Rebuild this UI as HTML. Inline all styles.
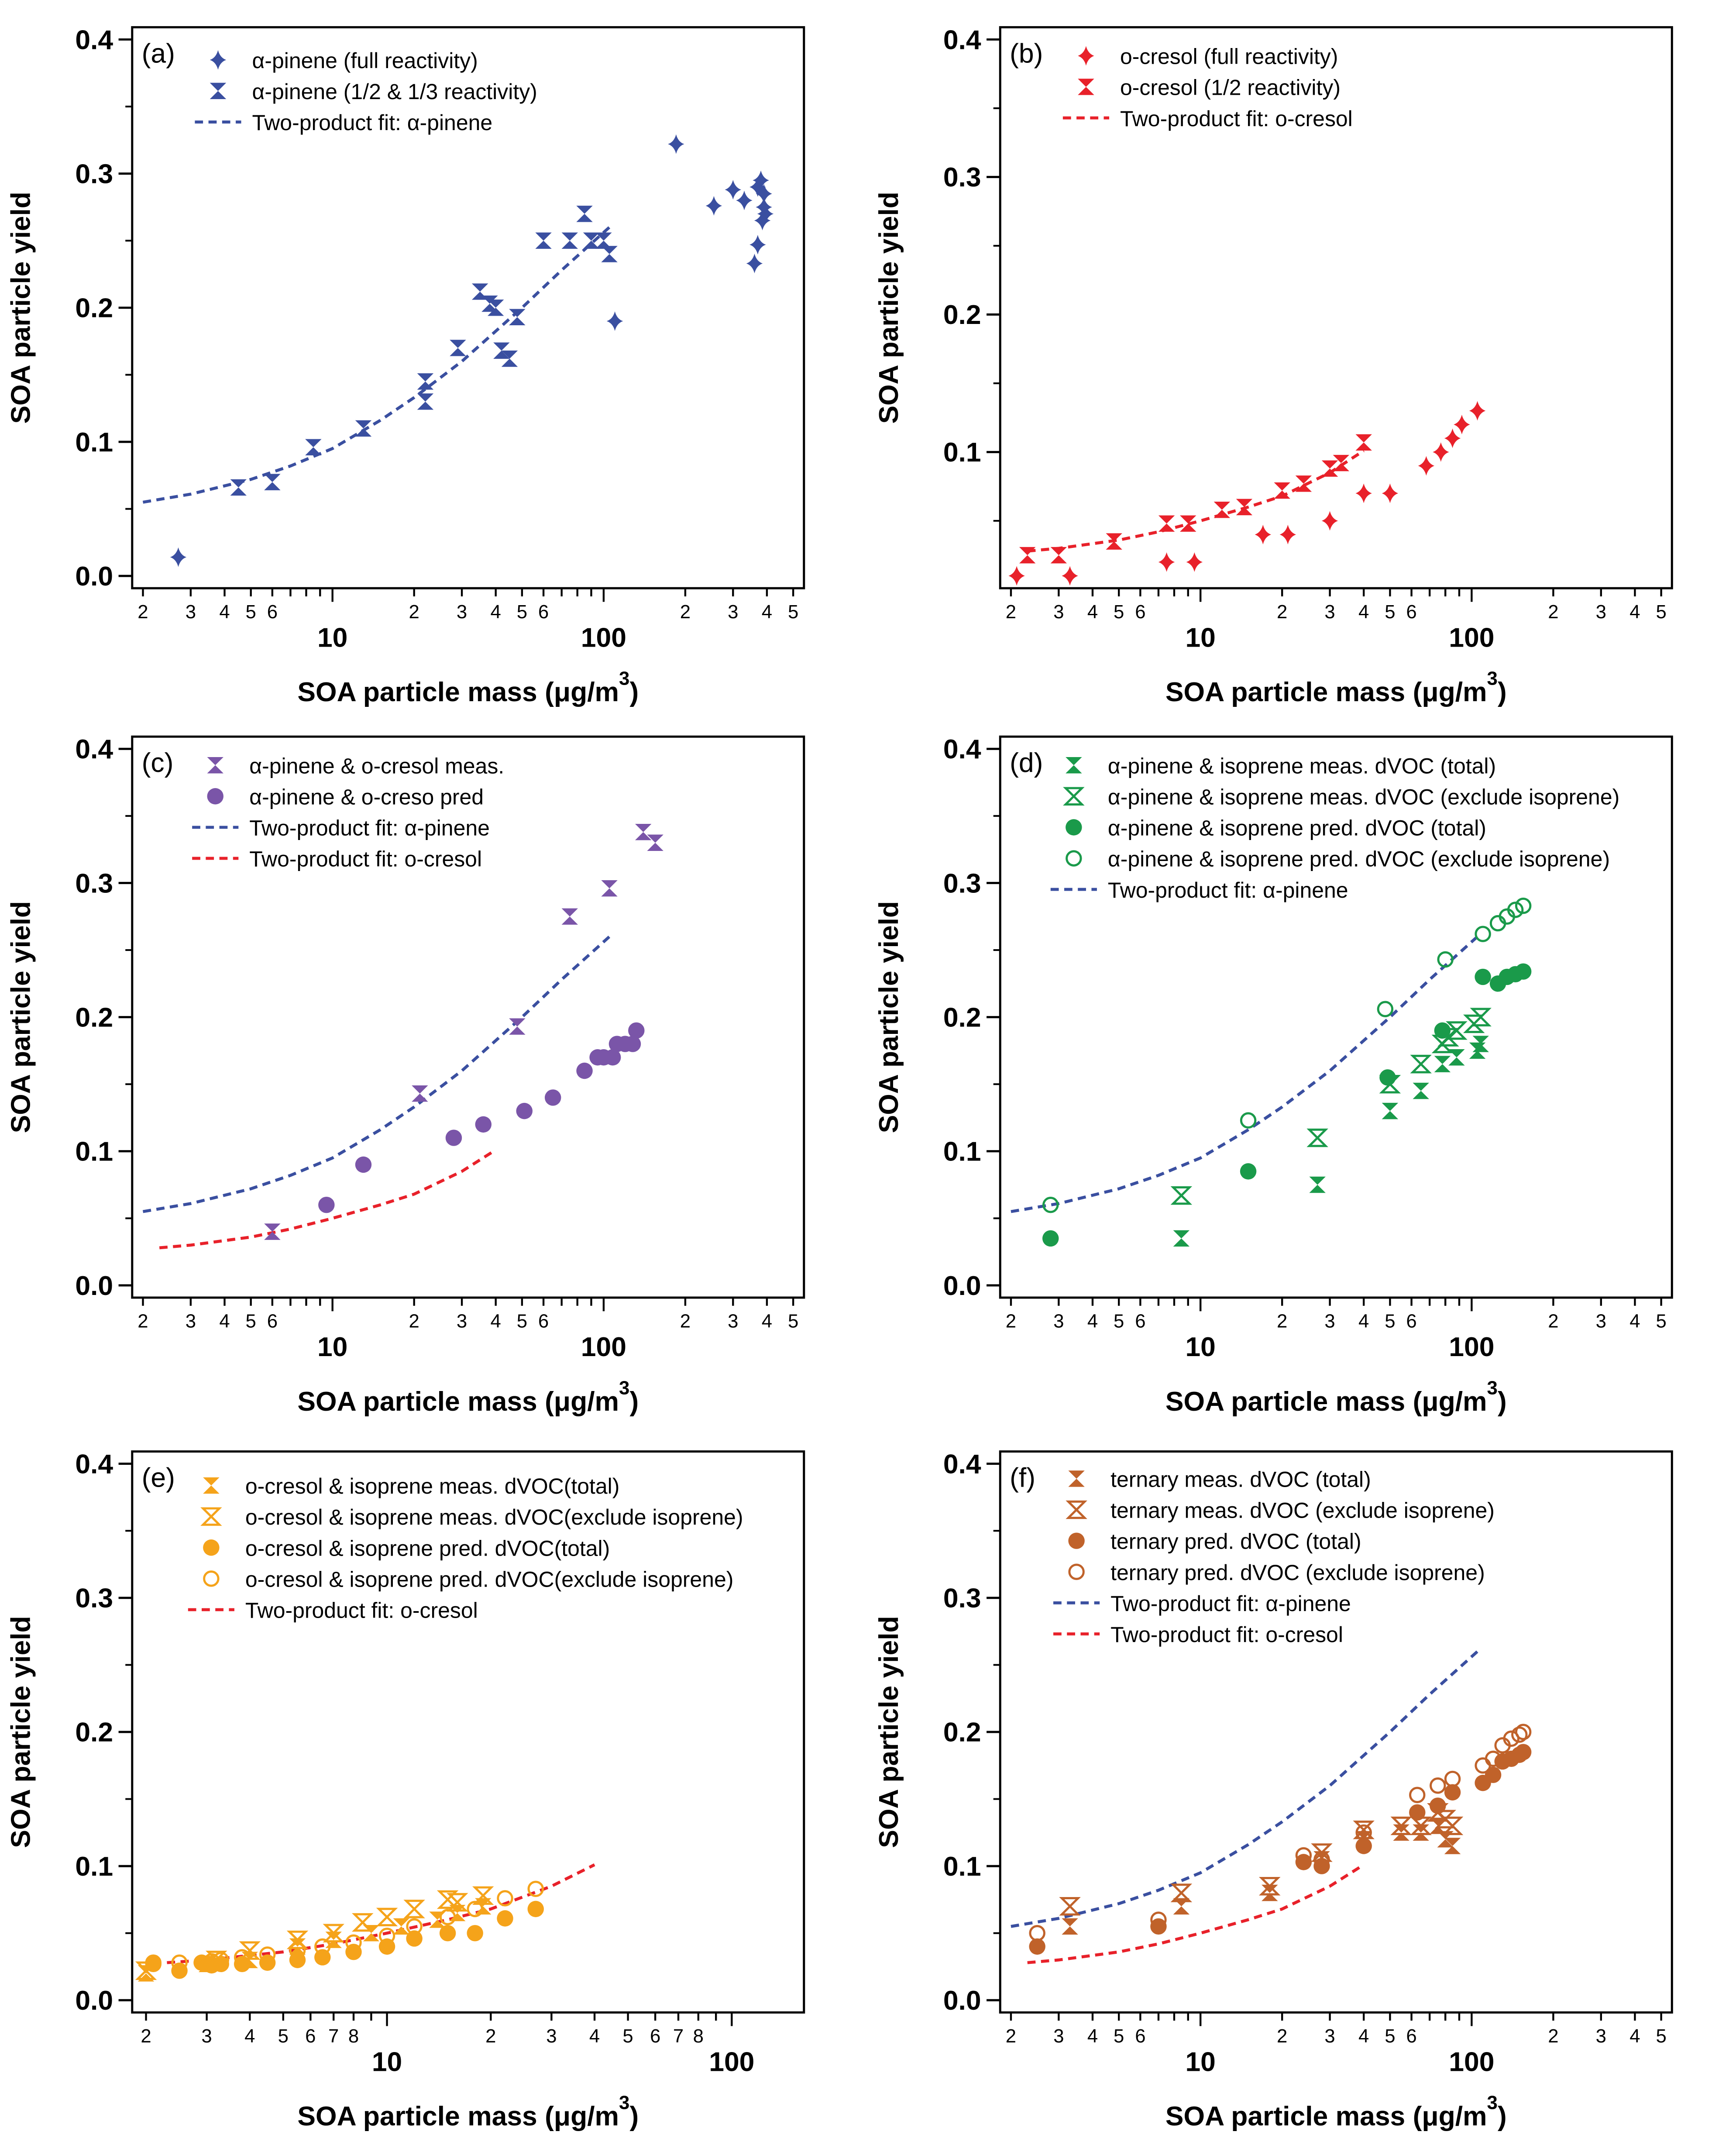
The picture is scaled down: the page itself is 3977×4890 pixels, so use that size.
<!DOCTYPE html>
<html><head><meta charset="utf-8"><title>SOA yield panels</title>
<style>html,body{margin:0;padding:0;background:#fff}svg{display:block}text{font-family:"Liberation Sans",sans-serif}</style>
</head><body>
<svg id="fig" xmlns="http://www.w3.org/2000/svg" width="3977" height="4890" viewBox="0 0 1274 1568" preserveAspectRatio="none"></svg>
<script>
// ---------- data ----------
const fitApX = [2, 3, 5, 7, 10, 15, 20, 30, 50, 70, 105];
const fitApY = [0.055, 0.061, 0.072, 0.082, 0.095, 0.116, 0.133, 0.160, 0.200, 0.228, 0.260];
const fitOcX = [2.3, 3, 5, 7, 10, 15, 20, 30, 40];
const fitOcY = [0.028, 0.030, 0.036, 0.042, 0.050, 0.060, 0.068, 0.085, 0.101];

const aFullX = [2.7, 110, 185, 255, 300, 330, 360, 370, 370, 380, 385, 390, 390, 395];
const aFullY = [0.014, 0.19, 0.322, 0.276, 0.288, 0.28, 0.233, 0.247, 0.29, 0.295, 0.265, 0.275, 0.285, 0.27];
const aPartX = [4.5, 6, 8.5, 13, 22, 22, 29, 35, 38, 40, 42, 45, 48, 60, 75, 85, 90, 100, 105];
const aPartY = [0.066, 0.07, 0.096, 0.11, 0.145, 0.13, 0.17, 0.212, 0.203, 0.2, 0.168, 0.162, 0.193, 0.25, 0.25, 0.27, 0.25, 0.25, 0.24];

const bFullX = [2.1, 3.3, 7.5, 9.5, 17, 21, 30, 40, 50, 68, 77, 85, 92, 105];
const bFullY = [0.01, 0.01, 0.02, 0.02, 0.04, 0.04, 0.05, 0.07, 0.07, 0.09, 0.1, 0.11, 0.12, 0.13];
const bHalfX = [2.3, 3, 4.8, 7.5, 9, 12, 14.5, 20, 24, 30, 33, 40];
const bHalfY = [0.025, 0.025, 0.035, 0.048, 0.048, 0.058, 0.06, 0.072, 0.077, 0.088, 0.092, 0.107];

const cMeasX = [6, 21, 48, 75, 105, 140, 155];
const cMeasY = [0.04, 0.143, 0.193, 0.275, 0.296, 0.338, 0.33];
const cPredX = [9.5, 13, 28, 36, 51, 65, 85, 95, 100, 108, 112, 120, 128, 132];
const cPredY = [0.06, 0.09, 0.11, 0.12, 0.13, 0.14, 0.16, 0.17, 0.17, 0.17, 0.18, 0.18, 0.18, 0.19];

const dMeasTX = [8.5, 27, 50, 65, 78, 88, 105, 108];
const dMeasTY = [0.035, 0.075, 0.13, 0.145, 0.165, 0.17, 0.175, 0.18];
const dMeasEX = [8.5, 27, 50, 65, 78, 82, 88, 102, 108];
const dMeasEY = [0.067, 0.11, 0.15, 0.165, 0.18, 0.185, 0.19, 0.195, 0.2];
const dPredTX = [2.8, 15, 49, 78, 110, 125, 135, 145, 155];
const dPredTY = [0.035, 0.085, 0.155, 0.19, 0.23, 0.225, 0.23, 0.232, 0.234];
const dPredEX = [2.8, 15, 48, 80, 110, 125, 135, 145, 155];
const dPredEY = [0.06, 0.123, 0.206, 0.243, 0.262, 0.27, 0.275, 0.28, 0.283];

const eMeasTX = [2, 3, 4, 5.5, 7, 9, 11, 14, 16, 19];
const eMeasTY = [0.02, 0.027, 0.03, 0.04, 0.045, 0.05, 0.055, 0.06, 0.065, 0.07];
const eMeasEX = [2, 3.2, 4, 5.5, 7, 8.5, 10, 12, 15, 16, 19];
const eMeasEY = [0.022, 0.03, 0.037, 0.045, 0.05, 0.058, 0.062, 0.068, 0.075, 0.073, 0.078];
const ePredTX = [2.1, 2.5, 2.9, 3.1, 3.3, 3.8, 4.5, 5.5, 6.5, 8, 10, 12, 15, 18, 22, 27];
const ePredTY = [0.027, 0.022, 0.028, 0.026, 0.027, 0.027, 0.028, 0.03, 0.032, 0.036, 0.04, 0.046, 0.05, 0.05, 0.061, 0.068];
const ePredEX = [2.1, 2.5, 3.1, 3.3, 3.8, 4.5, 5.5, 6.5, 8, 10, 12, 15, 18, 22, 27];
const ePredEY = [0.028, 0.028, 0.029, 0.03, 0.032, 0.034, 0.037, 0.04, 0.043, 0.048, 0.055, 0.062, 0.068, 0.076, 0.083];

const fMeasTX = [3.3, 8.5, 18, 28, 40, 55, 65, 75, 80, 85];
const fMeasTY = [0.055, 0.07, 0.08, 0.105, 0.12, 0.125, 0.125, 0.13, 0.12, 0.115];
const fMeasEX = [3.3, 8.5, 18, 28, 40, 55, 65, 75, 80, 85];
const fMeasEY = [0.07, 0.08, 0.085, 0.11, 0.127, 0.13, 0.13, 0.14, 0.135, 0.13];
const fPredTX = [2.5, 7, 24, 28, 40, 63, 75, 85, 110, 120, 130, 140, 150, 155];
const fPredTY = [0.04, 0.055, 0.103, 0.1, 0.115, 0.14, 0.145, 0.155, 0.162, 0.168, 0.178, 0.18, 0.183, 0.185];
const fPredEX = [2.5, 7, 24, 28, 40, 63, 75, 85, 110, 120, 130, 140, 150, 155];
const fPredEY = [0.05, 0.06, 0.108, 0.105, 0.125, 0.153, 0.16, 0.165, 0.175, 0.18, 0.19, 0.195, 0.198, 0.2];

const yTicks = ["0.0", "0.1", "0.2", "0.3", "0.4"];

// ---------- drawing ----------
const NS = "http://www.w3.org/2000/svg";
const svg = document.getElementById("fig");
const BLUE = "#3a4fa0", RED = "#e8212a", PURPLE = "#7a55a8", GREEN = "#1a9a4a", ORANGE = "#f5a31a", BROWN = "#c0622a";

function mk(tag, attrs, parent) {
  const e = document.createElementNS(NS, tag);
  for (const k in attrs) e.setAttribute(k, attrs[k]);
  (parent || svg).appendChild(e);
  return e;
}

function marker(g, kind, color, x, y, s) {
  s = s || 6;
  let e;
  if (kind === "star") {
    e = mk("path", {d: `M${x},${y - s * 1.2} Q${x + s * 0.25},${y - s * 0.25} ${x + s},${y} Q${x + s * 0.25},${y + s * 0.25} ${x},${y + s * 1.2} Q${x - s * 0.25},${y + s * 0.25} ${x - s},${y} Q${x - s * 0.25},${y - s * 0.25} ${x},${y - s * 1.2}Z`, fill: color}, g);
  } else if (kind === "hg" || kind === "hgo") {
    const d = `M${x - s},${y - s} L${x + s},${y - s} L${x},${y} Z M${x - s},${y + s} L${x + s},${y + s} L${x},${y} Z`;
    e = kind === "hg" ? mk("path", {d, fill: color}, g) : mk("path", {d, fill: "none", stroke: color, "stroke-width": 1.6}, g);
  } else if (kind === "dot") {
    e = mk("circle", {cx: x, cy: y, r: s, fill: color}, g);
  } else {
    e = mk("circle", {cx: x, cy: y, r: s - 0.8, fill: "none", stroke: color, "stroke-width": 1.6}, g);
  }
  
  
  return e;
}

function panel(cfg) {
  const g = mk("g", {});
  
  
  const ysc = cfg.ysc || 985;
  const L = cfg.left, R = cfg.left + 493;
  const T = cfg.top !== undefined ? cfg.top : cfg.y0 - 403;
  const B = cfg.bottom !== undefined ? cfg.bottom : cfg.y0 + 9;
  const xs = v => cfg.x10 + (Math.log10(v) - 1) * cfg.dec;
  const ys = v => cfg.y0 - v * ysc;
  const frame = mk("rect", {x: L, y: T, width: R - L, height: B - T, fill: "none", stroke: "#000", "stroke-width": 1.6}, g);
  
  
  yTicks.forEach((t, i) => {
    const yy = ys(i * 0.1);
    if (yy > B) return;
    mk("line", {x1: L - 10, x2: L, y1: yy, y2: yy, stroke: "#000", "stroke-width": 1.6}, g);
    const tx = mk("text", {x: L - 14, y: yy + 7, "text-anchor": "end", "font-size": 20, "font-weight": "bold"}, g);
    tx.textContent = t;
    
    
  });
  for (let i = 0; i < 4; i++) { const yy = ys(i * 0.1 + 0.05); mk("line", {x1: L - 5, x2: L, y1: yy, y2: yy, stroke: "#000", "stroke-width": 1.3}, g); }
  for (let dec = 1; dec <= 100; dec *= 10) {
    for (let m = 1; m <= 9; m++) {
      const v = dec * m, xx = xs(v);
      if (xx < L - 1 || xx > R + 1) continue;
      const major = m === 1;
      mk("line", {x1: xx, x2: xx, y1: B, y2: B + (major ? 10 : 6), stroke: "#000", "stroke-width": 1.4}, g);
      let lab = null;
      if (major) lab = String(v);
      else if (m <= cfg.maxMinor) lab = String(m);
      if (lab) {
        const tx = mk("text", {x: xx, y: major ? B + 43 : B + 22, "text-anchor": "middle", "font-size": major ? 20 : 14, "font-weight": major ? "bold" : "normal"}, g);
        tx.textContent = lab;
        
        
      }
    }
  }
  const xt = mk("text", {x: (L + R) / 2, y: B + 83, "text-anchor": "middle", "font-size": 20, "font-weight": "bold"}, g);
  xt.innerHTML = 'SOA particle mass (μg/m<tspan dy="-12" font-size="14">3</tspan><tspan dy="12">)</tspan>';
  
  
  const yt = mk("text", {x: 0, y: 0, transform: `translate(${L - 75},${(T + B) / 2}) rotate(-90)`, "text-anchor": "middle", "font-size": 20, "font-weight": "bold"}, g);
  yt.textContent = "SOA particle yield";
  
  
  const pl = mk("text", {x: L + 7, y: T + 26, "font-size": 20}, g);
  pl.textContent = "(" + cfg.id + ")";
  
  
  cfg.fits.forEach(f => {
    const p = mk("polyline", {points: f.x.map((v, i) => xs(v) + "," + ys(f.y[i])).join(" "), fill: "none", stroke: f.c, "stroke-width": 2.2, "stroke-dasharray": "6,4"}, g);
    
    
  });
  cfg.series.forEach(s => { s.x.forEach((v, i) => marker(g, s.k, s.c, xs(v), ys(s.y[i]))); });
  cfg.legend.forEach((it, i) => {
    const yy = cfg.legY + i * 22.8;
    if (it.k === "line") {
      const ln = mk("line", {x1: cfg.legX - 17, x2: cfg.legX + 17, y1: yy, y2: yy, stroke: it.c, "stroke-width": 2.2, "stroke-dasharray": "6,4"}, g);
      
      
    } else marker(g, it.k, it.c, cfg.legX, yy);
    const tx = mk("text", {x: cfg.legX + 25, y: yy + 6, "font-size": 16}, g);
    tx.textContent = it.t;
    
    
  });
}

const apFit = {x: fitApX, y: fitApY, c: BLUE};
const ocFit = {x: fitOcX, y: fitOcY, c: RED};

panel({id: "a", left: 97, y0: 423, x10: 244, dec: 199, maxMinor: 6, legX: 160, legY: 44,
  fits: [apFit],
  series: [{x: aFullX, y: aFullY, k: "star", c: BLUE}, {x: aPartX, y: aPartY, k: "hg", c: BLUE}],
  legend: [{k: "star", c: BLUE, t: "α-pinene (full reactivity)"}, {k: "hg", c: BLUE, t: "α-pinene (1/2 & 1/3 reactivity)"}, {k: "line", c: BLUE, t: "Two-product fit: α-pinene"}]});
panel({id: "b", left: 734, y0: 433, ysc: 1010, top: 20, bottom: 432, x10: 881, dec: 199, maxMinor: 6, legX: 797, legY: 41,
  fits: [ocFit],
  series: [{x: bFullX, y: bFullY, k: "star", c: RED}, {x: bHalfX, y: bHalfY, k: "hg", c: RED}],
  legend: [{k: "star", c: RED, t: "o-cresol (full reactivity)"}, {k: "hg", c: RED, t: "o-cresol (1/2 reactivity)"}, {k: "line", c: RED, t: "Two-product fit: o-cresol"}]});
panel({id: "c", left: 97, y0: 944, x10: 244, dec: 199, maxMinor: 6, legX: 158, legY: 562,
  fits: [apFit, ocFit],
  series: [{x: cMeasX, y: cMeasY, k: "hg", c: PURPLE}, {x: cPredX, y: cPredY, k: "dot", c: PURPLE}],
  legend: [{k: "hg", c: PURPLE, t: "α-pinene & o-cresol meas."}, {k: "dot", c: PURPLE, t: "α-pinene & o-creso pred"}, {k: "line", c: BLUE, t: "Two-product fit: α-pinene"}, {k: "line", c: RED, t: "Two-product fit: o-cresol"}]});
panel({id: "d", left: 734, y0: 944, x10: 881, dec: 199, maxMinor: 6, legX: 788, legY: 562,
  fits: [apFit],
  series: [{x: dMeasTX, y: dMeasTY, k: "hg", c: GREEN}, {x: dMeasEX, y: dMeasEY, k: "hgo", c: GREEN}, {x: dPredTX, y: dPredTY, k: "dot", c: GREEN}, {x: dPredEX, y: dPredEY, k: "ring", c: GREEN}],
  legend: [{k: "hg", c: GREEN, t: "α-pinene & isoprene meas. dVOC (total)"}, {k: "hgo", c: GREEN, t: "α-pinene & isoprene meas. dVOC (exclude isoprene)"}, {k: "dot", c: GREEN, t: "α-pinene & isoprene pred. dVOC (total)"}, {k: "ring", c: GREEN, t: "α-pinene & isoprene pred. dVOC (exclude isoprene)"}, {k: "line", c: BLUE, t: "Two-product fit: α-pinene"}]});
panel({id: "e", left: 97, y0: 1469, x10: 284, dec: 253, maxMinor: 8, legX: 155, legY: 1091,
  fits: [ocFit],
  series: [{x: eMeasTX, y: eMeasTY, k: "hg", c: ORANGE}, {x: eMeasEX, y: eMeasEY, k: "hgo", c: ORANGE}, {x: ePredTX, y: ePredTY, k: "dot", c: ORANGE}, {x: ePredEX, y: ePredEY, k: "ring", c: ORANGE}],
  legend: [{k: "hg", c: ORANGE, t: "o-cresol & isoprene meas. dVOC(total)"}, {k: "hgo", c: ORANGE, t: "o-cresol & isoprene meas. dVOC(exclude isoprene)"}, {k: "dot", c: ORANGE, t: "o-cresol & isoprene pred. dVOC(total)"}, {k: "ring", c: ORANGE, t: "o-cresol & isoprene pred. dVOC(exclude isoprene)"}, {k: "line", c: RED, t: "Two-product fit: o-cresol"}]});
panel({id: "f", left: 734, y0: 1469, x10: 881, dec: 199, maxMinor: 6, legX: 790, legY: 1086,
  fits: [apFit, ocFit],
  series: [{x: fMeasTX, y: fMeasTY, k: "hg", c: BROWN}, {x: fMeasEX, y: fMeasEY, k: "hgo", c: BROWN}, {x: fPredTX, y: fPredTY, k: "dot", c: BROWN}, {x: fPredEX, y: fPredEY, k: "ring", c: BROWN}],
  legend: [{k: "hg", c: BROWN, t: "ternary meas. dVOC (total)"}, {k: "hgo", c: BROWN, t: "ternary meas. dVOC (exclude isoprene)"}, {k: "dot", c: BROWN, t: "ternary pred. dVOC (total)"}, {k: "ring", c: BROWN, t: "ternary pred. dVOC (exclude isoprene)"}, {k: "line", c: BLUE, t: "Two-product fit: α-pinene"}, {k: "line", c: RED, t: "Two-product fit: o-cresol"}]});
</script>
</body></html>
